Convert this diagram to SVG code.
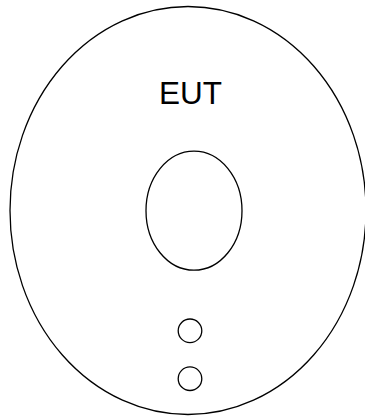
<svg xmlns="http://www.w3.org/2000/svg" width="365" height="416" viewBox="0 0 365 416">
<style>
.s{fill:#fff;stroke:#000;stroke-width:1.3}
.t{font-family:"Liberation Sans",Arial,sans-serif;font-size:31.5px;fill:#000;text-anchor:middle}
</style>
<rect width="365" height="416" fill="#fff"/>
<g id="eut">
<ellipse class="s" cx="188" cy="210.5" rx="178" ry="204"/>
<text class="t" x="190.5" y="104">EUT</text>
</g>
<g id="inner">
<ellipse class="s" cx="194" cy="210.7" rx="48" ry="59.5"/>
</g>
<g id="port1">
<circle class="s" cx="190" cy="330.8" r="11.8"/>
</g>
<g id="port2">
<circle class="s" cx="190" cy="378.7" r="11.8"/>
</g>
<g id="connectors"></g>
</svg>
